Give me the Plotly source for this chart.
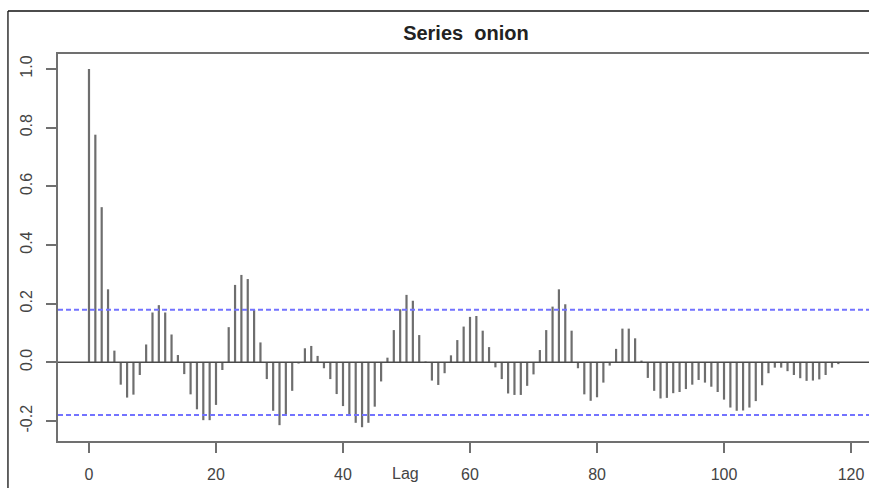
import plotly.graph_objects as go

# ---- data ----
lags = list(range(0, 119))
acf_values = [
    1.000, 0.776, 0.529, 0.249, 0.040, -0.076, -0.120, -0.110, -0.043, 0.061,
    0.170, 0.195, 0.170, 0.095, 0.025, -0.040, -0.109, -0.160, -0.197, -0.197,
    -0.145, -0.026, 0.120, 0.264, 0.298, 0.284, 0.179, 0.068, -0.057, -0.165,
    -0.214, -0.178, -0.097, -0.004, 0.048, 0.056, 0.022, -0.020, -0.057, -0.108,
    -0.149, -0.183, -0.206, -0.221, -0.206, -0.151, -0.065, 0.016, 0.110, 0.181,
    0.230, 0.210, 0.093, 0.003, -0.062, -0.077, -0.037, 0.024, 0.076, 0.122,
    0.155, 0.158, 0.108, 0.052, -0.017, -0.057, -0.106, -0.111, -0.111, -0.080,
    -0.041, 0.042, 0.110, 0.190, 0.249, 0.198, 0.108, -0.020, -0.109, -0.131,
    -0.119, -0.069, -0.011, 0.046, 0.115, 0.115, 0.082, 0.006, -0.053, -0.097,
    -0.123, -0.121, -0.105, -0.101, -0.091, -0.076, -0.060, -0.069, -0.083, -0.101,
    -0.127, -0.154, -0.165, -0.164, -0.154, -0.132, -0.078, -0.037, -0.018, -0.018,
    -0.030, -0.043, -0.054, -0.063, -0.062, -0.058, -0.043, -0.018, -0.006,
]
conf_limit = 0.179
x_ticks = [0, 20, 40, 60, 80, 100, 120]
y_ticks = [-0.2, 0.0, 0.2, 0.4, 0.6, 0.8, 1.0]
y_tick_labels = ["-0.2", "0.0", "0.2", "0.4", "0.6", "0.8", "1.0"]
title_text = "Series  onion"
x_label = "Lag"

FONT = "Liberation Sans, Arial, Helvetica, sans-serif"
AXIS_COL = "#707070"

# vertical spikes (type = "h")
xs, ys = [], []
for lag, v in zip(lags, acf_values):
    xs += [lag, lag, None]
    ys += [0, v, None]

fig = go.Figure()
fig.add_trace(go.Scatter(
    x=xs, y=ys, mode="lines",
    line=dict(color="#6e6e6e", width=2.2),
    hoverinfo="skip", showlegend=False,
))

shapes = [
    # zero line
    dict(type="line", xref="paper", yref="y", x0=0, x1=1, y0=0, y1=0,
         line=dict(color="#4a4a4a", width=1.5)),
    # confidence bounds
    dict(type="line", xref="paper", yref="y", x0=0, x1=1,
         y0=conf_limit, y1=conf_limit,
         line=dict(color="#7373ff", width=2, dash="5px,3px")),
    dict(type="line", xref="paper", yref="y", x0=0, x1=1,
         y0=-conf_limit, y1=-conf_limit,
         line=dict(color="#7373ff", width=2, dash="5px,3px")),
    # outer image frame (top & left)
    dict(type="line", xref="paper", yref="paper", x0=-0.0617, x1=1.0,
         y0=1.1111, y1=1.1111, line=dict(color="#111111", width=1.3)),
    dict(type="line", xref="paper", yref="paper", x0=-0.0617, x1=-0.0617,
         y0=-0.125, y1=1.1111, line=dict(color="#111111", width=1.3)),
]

fig.update_layout(
    width=869, height=488, autosize=False,
    margin=dict(l=58, r=0, t=54, b=47),
    paper_bgcolor="white", plot_bgcolor="white",
    font=dict(family=FONT, size=16, color="#444444"),
    showlegend=False,
    shapes=shapes,
    title=dict(
        text="<b>" + title_text + "</b>",
        x=0.503, xanchor="center", xref="paper",
        y=1 - 33 / 488, yanchor="middle", yref="container",
        font=dict(family=FONT, size=20, color="#222222"),
    ),
    xaxis=dict(
        range=[-4.88, 122.83],
        tickmode="array", tickvals=x_ticks,
        ticks="outside", ticklen=10, tickwidth=2, tickcolor=AXIS_COL,
        showline=True, linecolor=AXIS_COL, linewidth=2, mirror=True,
        showgrid=False, zeroline=False,
        tickfont=dict(family=FONT, size=16, color="#444444"),
        ticklabelstandoff=8,
    ),
    yaxis=dict(
        range=[-0.268, 1.051],
        tickmode="array", tickvals=y_ticks, ticktext=y_tick_labels,
        tickangle=-90,
        ticks="outside", ticklen=10, tickwidth=2, tickcolor=AXIS_COL,
        showline=True, linecolor=AXIS_COL, linewidth=2, mirror=False,
        showgrid=False, zeroline=False,
        tickfont=dict(family=FONT, size=16, color="#444444"),
        ticklabelstandoff=8,
    ),
    annotations=[
        dict(text=x_label, xref="x", yref="paper", x=49.8, y=-0.085,
             xanchor="center", yanchor="middle", showarrow=False,
             font=dict(family=FONT, size=16, color="#444444")),
    ],
)

fig.write_html("out.html")
